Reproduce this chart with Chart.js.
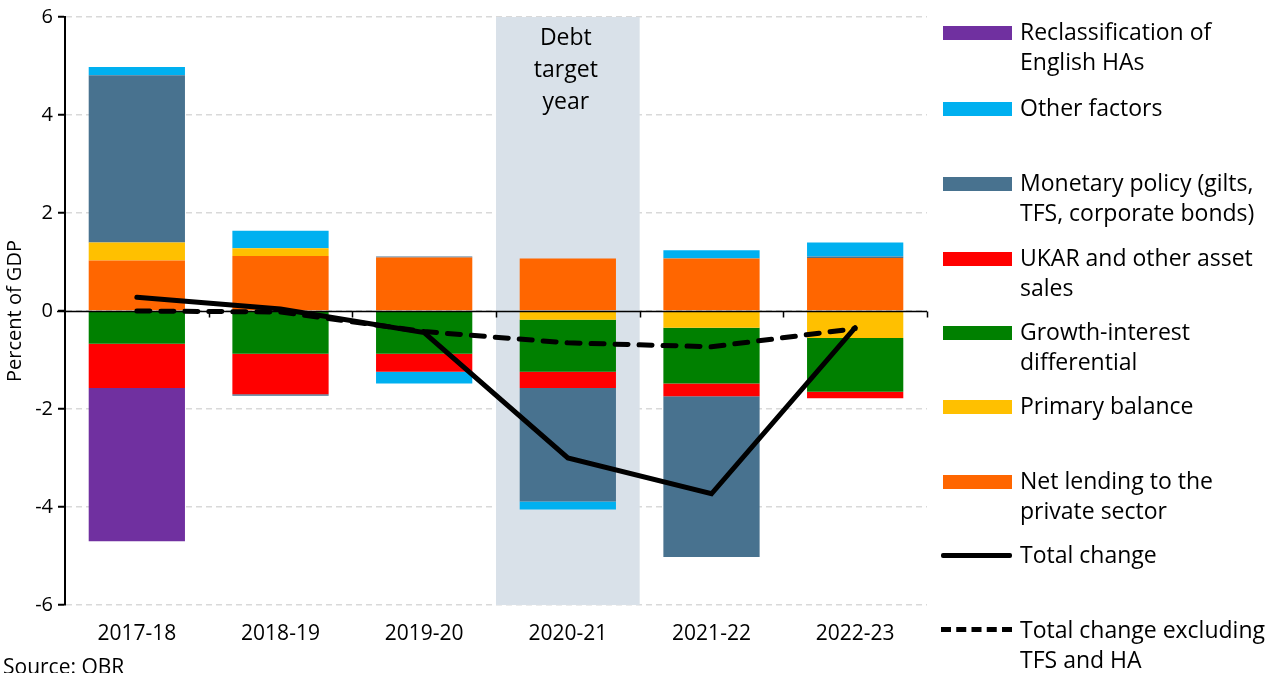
<!DOCTYPE html>
<html><head><meta charset="utf-8">
<script src="https://cdn.jsdelivr.net/npm/chart.js@4"></script>
<style>
html,body{margin:0;padding:0;background:#fff;}
#wrap{position:relative;width:1284px;height:673px;overflow:hidden;font-family:"Open Sans","DejaVu Sans",sans-serif;color:#000;}
#c{position:absolute;left:0;top:0;}
.lg{position:absolute;left:1020px;font-size:23px;line-height:30px;white-space:nowrap;}
.bx{position:absolute;left:943px;width:69px;height:14px;}
.ln{position:absolute;left:941px;width:71px;height:0;}
#src{position:absolute;left:3px;top:652px;font-size:21px;white-space:nowrap;}
</style></head>
<body><div id="wrap">
<canvas id="c" width="1284" height="673"></canvas>
<div class="bx" style="top:26px;background:#7030A0"></div><div class="lg" style="top:16px">Reclassification of<br>English HAs</div>
<div class="bx" style="top:102px;background:#00B0F0"></div><div class="lg" style="top:92px">Other factors</div>
<div class="bx" style="top:177px;background:#48728F"></div><div class="lg" style="top:167px">Monetary policy (gilts,<br>TFS, corporate bonds)</div>
<div class="bx" style="top:252px;background:#FF0000"></div><div class="lg" style="top:242px">UKAR and other asset<br>sales</div>
<div class="bx" style="top:326px;background:#008000"></div><div class="lg" style="top:316px">Growth-interest<br>differential</div>
<div class="bx" style="top:400px;background:#FFC000"></div><div class="lg" style="top:390px">Primary balance</div>
<div class="bx" style="top:475px;background:#FF6600"></div><div class="lg" style="top:465px">Net lending to the<br>private sector</div>
<div class="ln" style="top:553px;border-top:5px solid #000;border-radius:2px"></div><div class="lg" style="top:539px">Total change</div>
<div class="ln" style="top:627px;border-top:5px dashed #000"></div><div class="lg" style="top:614px">Total change excluding<br>TFS and HA</div>
<div id="src">Source: OBR</div>
</div>
<script>
const categories = ["2017-18","2018-19","2019-20","2020-21","2021-22","2022-23"];
const netLending   = [1.03, 1.12, 1.09, 1.07, 1.07, 1.08];
const primaryBal   = [0.37, 0.16, 0, -0.18, -0.34, -0.55];
const growthInt    = [-0.67, -0.87, -0.87, -1.06, -1.14, -1.10];
const ukar         = [-0.90, -0.83, -0.37, -0.33, -0.26, -0.13];
const monetary     = [3.41, -0.03, 0.02, -2.32, -3.28, 0.03];
const otherFactors = [0.17, 0.36, -0.24, -0.16, 0.17, 0.29];
const reclassHAs   = [-3.13, 0, 0, 0, 0, 0];
const totalChange  = [0.28, 0.04, -0.44, -3.00, -3.73, -0.34];
const totalExcl    = [0.00, -0.02, -0.42, -0.65, -0.73, -0.36];
const yTicks = [6,4,2,0,-2,-4,-6];
const debtTargetIndex = 3;
const debtTargetText = ["Debt","target","year"];

const FONT = '"Open Sans", "DejaVu Sans", sans-serif';
function bar(label, data, color){
  return {type:'bar', label, data, backgroundColor:color, borderWidth:0, stack:'bars', order:1,
          barPercentage:0.67, categoryPercentage:1};
}
const shadePlugin = {
  id:'shade',
  beforeDatasetsDraw(chart){
    const {ctx, chartArea:a, scales:{x}} = chart;
    const w = (a.right - a.left)/categories.length;
    const cx = x.getPixelForValue(debtTargetIndex);
    ctx.save();
    ctx.fillStyle = '#D9E1E9';
    ctx.fillRect(cx - w/2, a.top, w, a.bottom - a.top);
    ctx.fillStyle = '#000';
    ctx.font = '23px ' + FONT;
    ctx.textAlign = 'center'; ctx.textBaseline = 'middle';
    debtTargetText.forEach((t,i)=>ctx.fillText(t, cx - 2, 38 + i*32));
    ctx.restore();
  },
  beforeDatasetDraw(chart, args){
    if (args.index !== 7) return;
    const {ctx, chartArea:a, scales:{y}} = chart;
    const y0 = Math.round(y.getPixelForValue(0)) + 0.5;
    const w = (a.right - a.left)/categories.length;
    ctx.save();
    ctx.strokeStyle = '#000'; ctx.lineWidth = 1.5;
    ctx.beginPath();
    ctx.moveTo(a.left - 8, y0); ctx.lineTo(a.right, y0);
    for (let k=1;k<=categories.length;k++){
      const xx = Math.round(a.left + k*w) + 0.5;
      ctx.moveTo(xx, y0); ctx.lineTo(xx, y0 + 6);
    }
    ctx.stroke();
    ctx.restore();
  }
};

new Chart(document.getElementById('c'), {
  data:{
    labels:categories,
    datasets:[
      bar('Net lending to the private sector', netLending, '#FF6600'),
      bar('Primary balance', primaryBal, '#FFC000'),
      bar('Growth-interest differential', growthInt, '#008000'),
      bar('UKAR and other asset sales', ukar, '#FF0000'),
      bar('Monetary policy (gilts, TFS, corporate bonds)', monetary, '#48728F'),
      bar('Other factors', otherFactors, '#00B0F0'),
      bar('Reclassification of English HAs', reclassHAs, '#7030A0'),
      {type:'line', label:'Total change excluding TFS and HA', data:totalExcl, borderColor:'#000', borderWidth:5,
       borderDash:[13,11], pointRadius:0, stack:'l2', order:0, borderCapStyle:'round', fill:false},
      {type:'line', label:'Total change', data:totalChange, borderColor:'#000', borderWidth:5,
       pointRadius:0, stack:'l1', order:0, borderCapStyle:'round', borderJoinStyle:'miter', fill:false}
    ]
  },
  options:{
    responsive:false, animation:false, devicePixelRatio:1,
    layout:{padding:{left:0, right:357, top:17, bottom:0}},
    plugins:{legend:{display:false}, tooltip:{enabled:false}},
    scales:{
      x:{stacked:true, offset:true,
         grid:{display:false, drawTicks:false}, border:{display:false},
         ticks:{color:'#000', font:{family:FONT, size:21}, padding:16, maxRotation:0},
         afterFit(s){ s.height = 68; }},
      y:{stacked:true, min:-6, max:6,
         afterBuildTicks(s){ s.ticks = yTicks.map(v=>({value:v})); },
         grid:{color:'#D9D9D9', lineWidth:1.5, tickColor:'#000', tickLength:7, tickBorderDash:[], tickWidth:2},
         border:{display:true, color:'#000', width:2, dash:[6,4]},
         ticks:{color:'#000', font:{family:FONT, size:20}, padding:5},
         title:{display:true, text:'Percent of GDP', color:'#000', font:{family:FONT, size:20}, padding:{top:3,bottom:0}},
         afterFit(s){ s.width = 65; }}
    }
  },
  plugins:[shadePlugin]
});
</script>
</body></html>
